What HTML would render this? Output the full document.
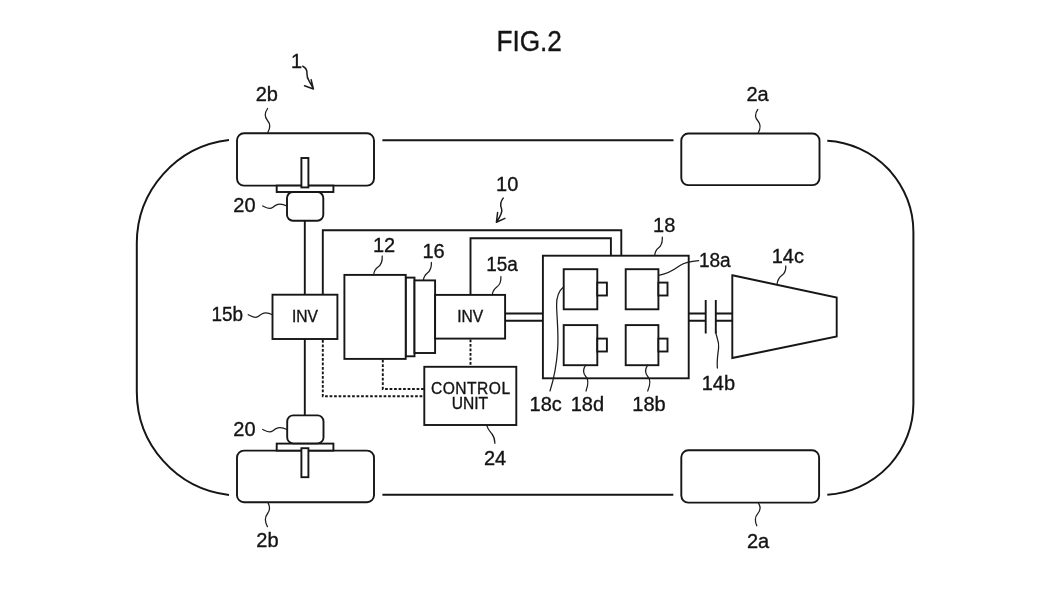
<!DOCTYPE html>
<html>
<head>
<meta charset="utf-8">
<title>FIG.2</title>
<style>
html,body{margin:0;padding:0;background:#fff;}
body{width:1050px;height:591px;overflow:hidden;font-family:"Liberation Sans",sans-serif;}
svg{display:block;position:absolute;left:0;top:0;will-change:transform;}
text{font-family:"Liberation Sans",sans-serif;fill:#141414;stroke:#141414;stroke-width:0.35;}
.l{fill:none;stroke:#161616;stroke-width:1.9;stroke-linejoin:miter;}
.b{fill:#fff;stroke:#161616;stroke-width:1.9;}
.body{fill:none;stroke:#161616;stroke-width:2;stroke-linecap:butt;}
.d{fill:none;stroke:#161616;stroke-width:1.9;stroke-dasharray:2.7 1.8;}
.ld{fill:none;stroke:#1c1c1c;stroke-width:1.25;stroke-linecap:round;stroke-linejoin:round;}
.lab{font-size:20px;}
</style>
</head>
<body>
<svg width="1050" height="591" viewBox="0 0 1050 591">


<!-- vehicle body -->
<path class="body" d="M229 140 A104 104 0 0 0 136.8 243.3 V391.7 A104 104 0 0 0 229 495"/>
<path class="body" d="M827.3 140.7 A91.4 91.4 0 0 1 913.4 232 V403.4 A91.4 91.4 0 0 1 827.3 494.7"/>
<path class="body" d="M382.4 140.3 H673.5"/>
<path class="body" d="M382.4 494.8 H673.3"/>

<!-- wheels -->
<rect class="b" x="237" y="133.3" width="137" height="52.3" rx="7" ry="7"/>
<rect class="b" x="681.3" y="133.5" width="138.2" height="51.6" rx="7" ry="7"/>
<rect class="b" x="237" y="450.6" width="137" height="51.6" rx="7" ry="7"/>
<rect class="b" x="681.3" y="450.3" width="137.8" height="52.3" rx="7" ry="7"/>

<!-- plates + in-wheel motors -->
<rect class="b" x="276.7" y="185.6" width="56.7" height="6.4"/>
<rect class="b" x="276.7" y="443.6" width="56.7" height="7"/>
<rect class="b" x="301.4" y="158" width="7" height="29.4"/>
<rect class="b" x="301.4" y="448.2" width="7" height="29"/>
<rect class="b" x="287" y="192" width="36.3" height="28.8" rx="6" ry="6"/>
<rect class="b" x="287.2" y="415.4" width="36.3" height="28" rx="6" ry="6"/>

<!-- shafts -->
<path class="l" d="M304.8 220.8 V294.7 M304.8 339 V415.4"/>

<!-- power lines -->
<path class="l" d="M322.8 294.7 V230.2 H621.3 V255.7"/>
<path class="l" d="M470.5 294.9 V238.2 H610.9 V255.7"/>

<!-- INV 15b -->
<rect class="b" x="272.5" y="294.7" width="64.9" height="44.3"/>
<!-- engine 12, 16 -->
<rect class="b" x="405.7" y="277.6" width="8.8" height="78.7"/>
<rect class="b" x="344.4" y="274.9" width="61.3" height="84"/>
<rect class="b" x="414.5" y="280.4" width="20.6" height="72.6"/>
<!-- INV 15a -->
<rect class="b" x="435.1" y="294.9" width="70" height="43.7"/>
<!-- shaft double lines -->
<path class="l" d="M505.1 313.5 H542.9 M505.1 320.7 H542.9"/>
<!-- battery 18 -->
<rect class="b" x="542.9" y="255.7" width="145.8" height="122.6"/>
<rect class="b" x="563.7" y="269.2" width="33.6" height="40.1"/>
<rect class="b" x="597.3" y="282.6" width="9.6" height="12.9"/>
<rect class="b" x="625.7" y="269.2" width="32.7" height="40.1"/>
<rect class="b" x="658.4" y="282.6" width="9.1" height="12.9"/>
<rect class="b" x="563.7" y="325.1" width="33.6" height="40.1"/>
<rect class="b" x="597.3" y="338.6" width="9.6" height="12.9"/>
<rect class="b" x="625.7" y="325.1" width="32.7" height="40.1"/>
<rect class="b" x="658.4" y="338.6" width="9.1" height="12.9"/>
<!-- clutch 14b -->
<path class="l" d="M688.7 313.5 H705.7 M688.7 320.7 H705.7 M715.8 313.5 H732.3 M715.8 320.7 H732.3"/>
<path class="l" d="M705.7 299.9 V333.6 M715.8 299.9 V333.6"/>
<!-- 14c -->
<path class="b" d="M732.3 275.3 L836.7 297.6 V336.4 L732.3 358 Z"/>

<!-- control unit -->
<path class="d" d="M382.8 359.8 V389 H424.3"/>
<path class="d" d="M322.8 340 V396.2 H424.3"/>
<path class="d" d="M470.5 339.6 V366.8"/>
<rect class="b" x="424.3" y="366.8" width="92" height="58.2"/>

<!-- leaders -->
<path class="ld" d="M267.6 108.5 C264.5 113 264.5 117 267.5 120.5 C270.5 124 270 129 267.6 132.8"/>
<path class="ld" d="M757.8 109.3 C754.5 114 754.8 117.5 758 121 C761 124.5 760.3 129 758.2 133"/>
<path class="ld" d="M268.1 502.9 C270.2 507 270.2 510.5 267.3 514 C264.5 517.5 265 522 267.4 526.6"/>
<path class="ld" d="M758.6 503.4 C760.8 507 760.6 510.5 757.6 513.8 C754.6 517 755 521.5 756.8 525.8"/>
<path class="ld" d="M262.7 206 C266 207.5 269.5 210 272.5 207.5 C275.5 205 279 202 286.9 206"/>
<path class="ld" d="M262.7 429.5 C266 431 269.5 433.5 272.5 431 C275.5 428.5 279 425.5 287 429.5"/>
<path class="ld" d="M248.2 314.7 C251.5 316.2 255.5 319 258.5 316.3 C261.5 313.6 265 311 272.5 314.7"/>
<path class="ld" d="M382.2 256 C382.6 262 381 265 378 267 C375.2 268.9 374 271 373.7 274.9"/>
<path class="ld" d="M431.4 262.5 C431.6 268 430 271 427.4 273 C424.8 275 423.7 277 423.4 280.3"/>
<path class="ld" d="M500.9 276.6 C501.2 282 499.6 285 496.8 287 C494 289 492.7 291 492.3 294.7"/>
<path class="ld" d="M662.3 237.2 C662.6 243 661 246 658.4 248 C655.8 250 655 252 654.7 255.5"/>
<path class="ld" d="M785.8 266 C786 271 784.6 273.5 782 275.3 C779.3 277.2 777.6 280 776.9 284.6"/>
<path class="ld" d="M698.7 260.6 C690 261.2 685 262 680 265.5 C675 269 670 273.5 658.6 275.4"/>
<path class="ld" d="M563.7 286.7 C558.5 291 556.2 296 556.6 306 C557 320 558.8 335 557.6 350 C556.5 365 553.5 380 550 391"/>
<path class="ld" d="M585.7 365.2 C583 369 582.8 373 585.8 376.5 C588.8 380 588.3 385 586 391"/>
<path class="ld" d="M647.7 365.2 C645 369 644.8 373 647.8 376.5 C650.8 380 650.3 385 647.7 391"/>
<path class="ld" d="M715.6 331 C716 337 719.5 341 718.6 348 C717.8 355 716.6 361 717.4 368"/>
<path class="ld" d="M486.8 425.7 C487.8 429.5 490 431.5 492 434 C494 436.5 494.8 440 494.9 443.3"/>
<!-- arrows -->
<path class="ld" style="stroke-width:1.5" d="M302.8 66.2 C305.5 67.5 307.3 70 307 74 C306.7 78 308.5 80 310 82.5 C311.5 85 312.6 87 313.4 89 M304.5 85.7 L313.4 89 L311.2 79.8"/>
<path class="ld" style="stroke-width:1.5" d="M503.2 198.1 C500.5 201.5 500 205 501.5 208.5 C503 212 500 217 496.4 222.3 M497.6 212.5 L496.4 222.3 L504.9 218.4"/>

<!-- text -->
<text x="529.2" y="50.6" font-size="28.6" text-anchor="middle" textLength="65.5" lengthAdjust="spacingAndGlyphs">FIG.2</text>
<text class="lab" x="296.5" y="68.4" text-anchor="middle">1</text>
<text class="lab" x="266.8" y="100.6" text-anchor="middle">2b</text>
<text class="lab" x="757.6" y="101.2" text-anchor="middle">2a</text>
<text class="lab" x="267.4" y="547.4" text-anchor="middle">2b</text>
<text class="lab" x="758" y="547.6" text-anchor="middle">2a</text>
<text class="lab" x="244.4" y="212.3" text-anchor="middle">20</text>
<text class="lab" x="244.4" y="435.6" text-anchor="middle">20</text>
<text class="lab" x="227.2" y="321.4" text-anchor="middle" textLength="31.6" lengthAdjust="spacingAndGlyphs">15b</text>
<text class="lab" x="507.2" y="190.6" text-anchor="middle">10</text>
<text class="lab" x="384.1" y="251.6" text-anchor="middle">12</text>
<text class="lab" x="433.5" y="257.6" text-anchor="middle">16</text>
<text class="lab" x="502.1" y="271.3" text-anchor="middle" textLength="31.6" lengthAdjust="spacingAndGlyphs">15a</text>
<text class="lab" x="664.2" y="232.2" text-anchor="middle">18</text>
<text class="lab" x="714.8" y="266.9" text-anchor="middle" textLength="31.8" lengthAdjust="spacingAndGlyphs">18a</text>
<text class="lab" x="787.8" y="263" text-anchor="middle">14c</text>
<text class="lab" x="718.4" y="389.6" text-anchor="middle">14b</text>
<text class="lab" x="545.7" y="411.4" text-anchor="middle">18c</text>
<text class="lab" x="587.4" y="411.4" text-anchor="middle">18d</text>
<text class="lab" x="649" y="411.4" text-anchor="middle">18b</text>
<text class="lab" x="495" y="464.6" text-anchor="middle">24</text>
<text x="305" y="321.5" font-size="15.6" text-anchor="middle">INV</text>
<text x="470.2" y="321.8" font-size="15.6" text-anchor="middle">INV</text>
<text x="470.5" y="393.6" font-size="15.6" text-anchor="middle" textLength="79.2" lengthAdjust="spacing">CONTROL</text>
<text x="469.9" y="409.2" font-size="15.6" text-anchor="middle">UNIT</text>
</svg>
</body>
</html>
